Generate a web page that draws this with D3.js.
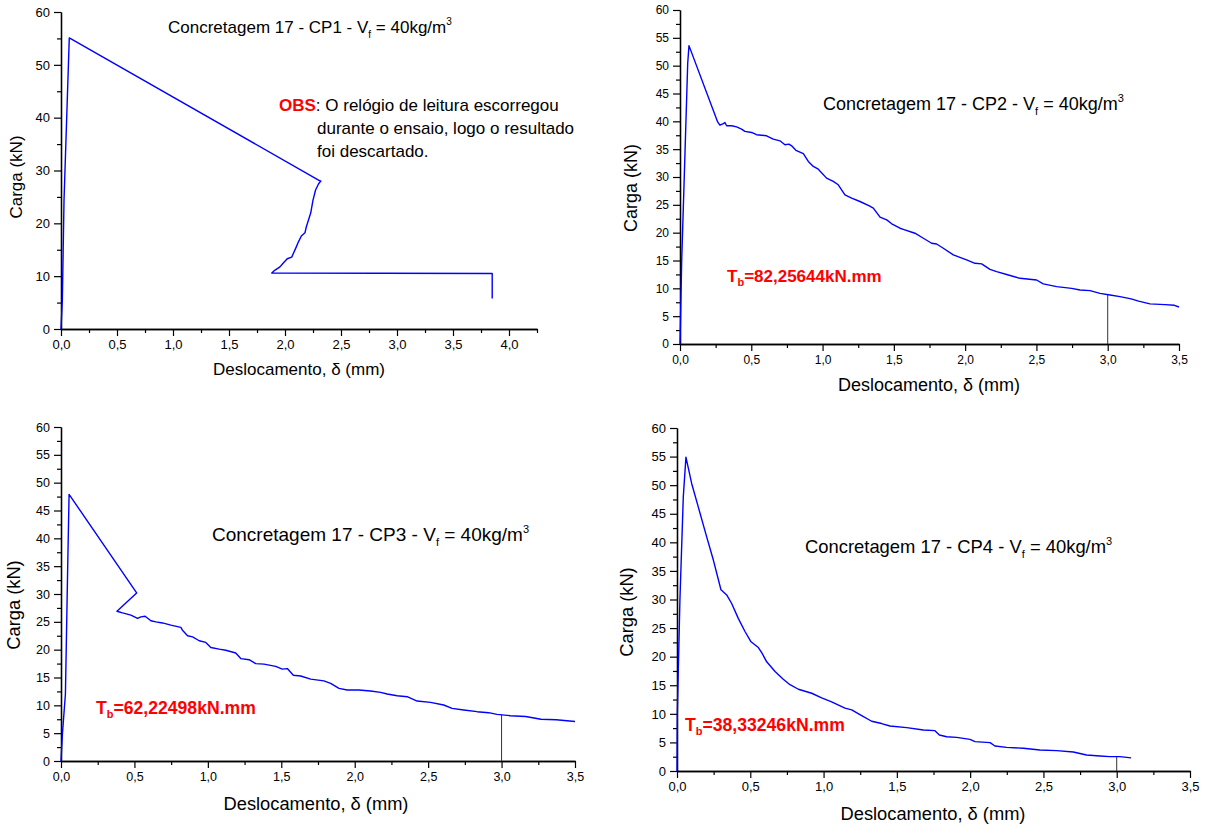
<!DOCTYPE html>
<html>
<head>
<meta charset="utf-8">
<script src="https://cdn.jsdelivr.net/npm/d3@7"></script>
<style>
  html, body { margin: 0; padding: 0; background: #fff; }
  svg { display: block; font-family: "Liberation Sans", Arial, sans-serif; }
</style>
</head>
<body>
<svg id="chart" width="1206" height="829"></svg>
<script>
// ---- Load / displacement readings for each specimen (δ in mm, load in kN) ----
const cp1Desloc = [0, 0.012, 0.027, 0.074, 2.315, 2.32, 2.30, 2.273, 2.25, 2.23, 2.19, 2.178, 2.146, 2.12, 2.10, 2.06, 2.02, 1.985, 1.955, 1.908, 1.882, 3.85, 3.85];
const cp1Carga  = [0, 5.5, 24.4, 55.1, 28.0, 28.0, 27.5, 26.3, 24.4, 22.0, 19.3, 18.2, 17.6, 16.5, 15.5, 13.6, 13.3, 12.5, 11.75, 11.1, 10.6, 10.5, 5.75];

const cp2Desloc = [0, 0.012, 0.035, 0.054, 0.063, 0.264, 0.28, 0.304, 0.315, 0.327, 0.362, 0.397, 0.432, 0.455, 0.502, 0.537, 0.607, 0.654, 0.701, 0.736, 0.764, 0.783, 0.813, 0.865, 0.90, 0.935, 0.97, 1.028, 1.075, 1.11, 1.157, 1.204, 1.262, 1.328, 1.356, 1.403, 1.45, 1.485, 1.543, 1.566, 1.648, 1.707, 1.765, 1.80, 1.847, 1.917, 2.01, 2.069, 2.116, 2.174, 2.221, 2.303, 2.385, 2.501, 2.548, 2.642, 2.747, 2.806, 2.876, 2.946, 3.016, 3.086, 3.164, 3.217, 3.296, 3.402, 3.468, 3.50];
const cp2Carga  = [0, 15.1, 34.3, 50.4, 53.6, 39.9, 39.3, 39.6, 39.8, 39.2, 39.2, 39.0, 38.6, 38.2, 38.0, 37.6, 37.4, 36.8, 36.5, 35.8, 35.9, 35.6, 34.8, 34.2, 32.8, 31.9, 31.4, 29.8, 29.2, 28.6, 26.8, 26.2, 25.6, 24.8, 24.4, 22.8, 22.3, 21.6, 20.8, 20.6, 19.9, 19.0, 18.1, 17.97, 17.2, 16.0, 15.1, 14.5, 14.4, 13.4, 13.0, 12.4, 11.8, 11.5, 10.8, 10.3, 10.0, 9.7, 9.58, 9.1, 8.8, 8.5, 8.1, 7.7, 7.2, 7.07, 6.95, 6.65];

const cp3Desloc = [0, 0.01, 0.03, 0.045, 0.055, 0.515, 0.381, 0.419, 0.476, 0.521, 0.544, 0.573, 0.612, 0.646, 0.691, 0.748, 0.816, 0.827, 0.862, 0.896, 0.941, 0.986, 1.02, 1.077, 1.122, 1.19, 1.224, 1.281, 1.326, 1.382, 1.462, 1.507, 1.541, 1.582, 1.632, 1.70, 1.79, 1.836, 1.893, 1.949, 2.028, 2.108, 2.176, 2.221, 2.289, 2.357, 2.425, 2.516, 2.606, 2.663, 2.742, 2.833, 2.912, 2.969, 3.059, 3.164, 3.268, 3.372, 3.50];
const cp3Carga  = [0, 5, 12, 34, 47.9, 30.2, 26.9, 26.6, 26.2, 25.6, 25.9, 26.0, 25.2, 25.0, 24.8, 24.4, 24.0, 23.5, 22.5, 22.3, 21.6, 21.3, 20.4, 20.1, 19.9, 19.4, 18.4, 18.2, 17.5, 17.4, 17.0, 16.5, 16.6, 15.4, 15.27, 14.7, 14.4, 13.95, 13.05, 12.76, 12.76, 12.58, 12.33, 12.03, 11.73, 11.55, 10.77, 10.53, 10.06, 9.46, 9.16, 8.86, 8.68, 8.38, 8.14, 8.0, 7.5, 7.4, 7.1];

const cp4Desloc = [0, 0.002, 0.02, 0.043, 0.061, 0.10, 0.145, 0.202, 0.248, 0.30, 0.339, 0.373, 0.418, 0.464, 0.505, 0.555, 0.578, 0.612, 0.669, 0.725, 0.771, 0.828, 0.919, 0.987, 1.055, 1.146, 1.192, 1.26, 1.328, 1.396, 1.453, 1.567, 1.681, 1.76, 1.79, 1.84, 1.908, 1.999, 2.033, 2.136, 2.169, 2.249, 2.363, 2.476, 2.59, 2.704, 2.794, 2.886, 2.953, 3.022, 3.098];
const cp4Carga  = [0, 10, 30, 48, 54.9, 50.3, 46.2, 41.0, 36.9, 31.7, 30.8, 29.3, 26.7, 24.4, 22.6, 21.6, 20.7, 19.1, 17.4, 16.05, 15.1, 14.3, 13.6, 12.8, 12.1, 11.0, 10.7, 9.7, 8.7, 8.3, 7.87, 7.58, 7.17, 7.06, 6.3, 6.0, 5.89, 5.54, 5.13, 4.96, 4.38, 4.14, 3.97, 3.68, 3.56, 3.32, 2.8, 2.63, 2.51, 2.51, 2.3];

// ---- Labels ----
const specimens = ["CP1", "CP2", "CP3", "CP4"];
const toughness = [null, "82,25644", "62,22498", "38,33246"];
const xTitle = "Deslocamento, \u03b4 (mm)";
const yTitle = "Carga (kN)";
const obsLines = [": O relógio de leitura escorregou", "durante o ensaio, logo o resultado", "foi descartado."];

// ---- Tick values ----
const xMajor40 = [0, 0.5, 1.0, 1.5, 2.0, 2.5, 3.0, 3.5, 4.0];
const xMinor40 = [0.25, 0.75, 1.25, 1.75, 2.25, 2.75, 3.25, 3.75, 4.25];
const xMajor35 = [0, 0.5, 1.0, 1.5, 2.0, 2.5, 3.0, 3.5];
const xMinor35 = [0.25, 0.75, 1.25, 1.75, 2.25, 2.75, 3.25];
const yMajor10 = [0, 10, 20, 30, 40, 50, 60];
const yMinor10 = [5, 15, 25, 35, 45, 55];
const yMajor5  = [0, 5, 10, 15, 20, 25, 30, 35, 40, 45, 50, 55, 60];
const yMinor5  = [2.5, 7.5, 12.5, 17.5, 22.5, 27.5, 32.5, 37.5, 42.5, 47.5, 52.5, 57.5];
const T_REF = 3.0;   // displacement where the reference line is drawn

const svg = d3.select("#chart");
const decimalComma = v => d3.format(".1f")(v).replace(".", ",");

// Panel frames (pixel layout and font sizes)
const panels = [
  { x: cp1Desloc, y: cp1Carga, left: 61, right: 537, top: 12, bottom: 329, xMax: 4.25,
    xMaj: xMajor40, xMin: xMinor40, yMaj: yMajor10, yMin: yMinor10,
    tickFont: 13, titleFont: 17, axisFont: 17, tbFont: 17,
    title: [168, 33], xT: [299, 375], yT: [22, 177], tb: null, refLine: false },
  { x: cp2Desloc, y: cp2Carga, left: 680, right: 1179, top: 10, bottom: 344, xMax: 3.5,
    xMaj: xMajor35, xMin: xMinor35, yMaj: yMajor5, yMin: yMinor5,
    tickFont: 12, titleFont: 18, axisFont: 18, tbFont: 17,
    title: [823, 110], xT: [929, 391], yT: [637, 188], tb: [727, 282], refLine: true },
  { x: cp3Desloc, y: cp3Carga, left: 61, right: 575, top: 427, bottom: 761, xMax: 3.5,
    xMaj: xMajor35, xMin: xMinor35, yMaj: yMajor5, yMin: yMinor5,
    tickFont: 12.5, titleFont: 19, axisFont: 18.3, tbFont: 17.6,
    title: [212, 541], xT: [316, 810], yT: [20, 605], tb: [96, 714], refLine: true },
  { x: cp4Desloc, y: cp4Carga, left: 677, right: 1190, top: 428, bottom: 771, xMax: 3.5,
    xMaj: xMajor35, xMin: xMinor35, yMaj: yMajor5, yMin: yMinor5,
    tickFont: 13, titleFont: 18.4, axisFont: 18.3, tbFont: 17.6,
    title: [805, 553], xT: [933, 820], yT: [633, 612], tb: [685, 731], refLine: true }
];

function styleAxis(g, fontSize) {
  g.select(".domain").attr("stroke", "#000").attr("stroke-width", 1.3);
  g.selectAll(".tick line").attr("stroke", "#000").attr("stroke-width", 1.2);
  g.selectAll(".tick text").attr("fill", "#000")
    .style("font-family", "'Liberation Sans', Arial, sans-serif")
    .style("font-size", fontSize + "px");
}

panels.forEach((p, i) => {
  const g = svg.append("g");
  const x = d3.scaleLinear().domain([0, p.xMax]).range([p.left, p.right]);
  const y = d3.scaleLinear().domain([0, 60]).range([p.bottom, p.top]);

  // minor ticks
  g.append("g").attr("transform", `translate(0,${p.bottom})`)
    .call(d3.axisBottom(x).tickValues(p.xMin).tickSize(4).tickSizeOuter(0).tickFormat(""))
    .call(a => styleAxis(a, p.tickFont));
  g.append("g").attr("transform", `translate(${p.left},0)`)
    .call(d3.axisLeft(y).tickValues(p.yMin).tickSize(4).tickSizeOuter(0).tickFormat(""))
    .call(a => styleAxis(a, p.tickFont));
  // major ticks with labels
  g.append("g").attr("transform", `translate(0,${p.bottom})`)
    .call(d3.axisBottom(x).tickValues(p.xMaj).tickSize(7).tickPadding(4).tickSizeOuter(0).tickFormat(decimalComma))
    .call(a => styleAxis(a, p.tickFont));
  g.append("g").attr("transform", `translate(${p.left},0)`)
    .call(d3.axisLeft(y).tickValues(p.yMaj).tickSize(7).tickPadding(4).tickSizeOuter(0).tickFormat(d3.format("d")))
    .call(a => styleAxis(a, p.tickFont));

  // reference line at δ = 3,0 mm, up to the curve
  if (p.refLine) {
    const j = d3.bisectLeft(p.x, T_REF);
    const t = (T_REF - p.x[j - 1]) / (p.x[j] - p.x[j - 1]);
    const yAt = p.y[j - 1] + t * (p.y[j] - p.y[j - 1]);
    g.append("line")
      .attr("x1", x(T_REF)).attr("x2", x(T_REF))
      .attr("y1", y(0)).attr("y2", y(yAt))
      .attr("stroke", "#333").attr("stroke-width", 1);
  }

  // load–displacement curve
  const pts = p.x.map((d, k) => [d, p.y[k]]);
  g.append("path")
    .datum(pts)
    .attr("fill", "none")
    .attr("stroke", "#0000ff")
    .attr("stroke-width", 1.4)
    .attr("stroke-linejoin", "round")
    .attr("d", d3.line().x(d => x(d[0])).y(d => y(d[1])));

  // title: Concretagem 17 - CPn - Vf = 40kg/m3
  const small = Math.round(p.titleFont * 0.6);
  const tt = g.append("text").attr("x", p.title[0]).attr("y", p.title[1])
    .attr("font-size", p.titleFont).attr("fill", "#000");
  tt.append("tspan").text(`Concretagem 17 - ${specimens[i]} - V`);
  tt.append("tspan").attr("font-size", small).attr("dy", 5).text("f");
  tt.append("tspan").attr("dy", -5).text(" = 40kg/m");
  tt.append("tspan").attr("font-size", small).attr("dy", -8).text("3");

  // axis titles
  g.append("text").attr("x", p.xT[0]).attr("y", p.xT[1])
    .attr("text-anchor", "middle").attr("font-size", p.axisFont).attr("fill", "#000")
    .text(xTitle);
  g.append("text")
    .attr("transform", `translate(${p.yT[0]},${p.yT[1]}) rotate(-90)`)
    .attr("text-anchor", "middle").attr("font-size", p.axisFont).attr("fill", "#000")
    .text(yTitle);

  // toughness annotation
  if (p.tb) {
    const tb = g.append("text").attr("x", p.tb[0]).attr("y", p.tb[1])
      .attr("font-size", p.tbFont).attr("font-weight", "bold").attr("fill", "#ff0000");
    tb.append("tspan").text("T");
    tb.append("tspan").attr("font-size", Math.round(p.tbFont * 0.65)).attr("dy", 4).text("b");
    tb.append("tspan").attr("dy", -4).text(`=${toughness[i]}kN.mm`);
  }
});

// note on specimen CP1
const obs = svg.append("text").attr("x", 279).attr("y", 111).attr("font-size", 17).attr("fill", "#000");
obs.append("tspan").attr("font-weight", "bold").attr("fill", "#ff0000").text("OBS");
obs.append("tspan").text(obsLines[0]);
svg.append("text").attr("x", 317).attr("y", 134).attr("font-size", 17).attr("fill", "#000").text(obsLines[1]);
svg.append("text").attr("x", 317).attr("y", 157).attr("font-size", 17).attr("fill", "#000").text(obsLines[2]);
</script>
</body>
</html>
